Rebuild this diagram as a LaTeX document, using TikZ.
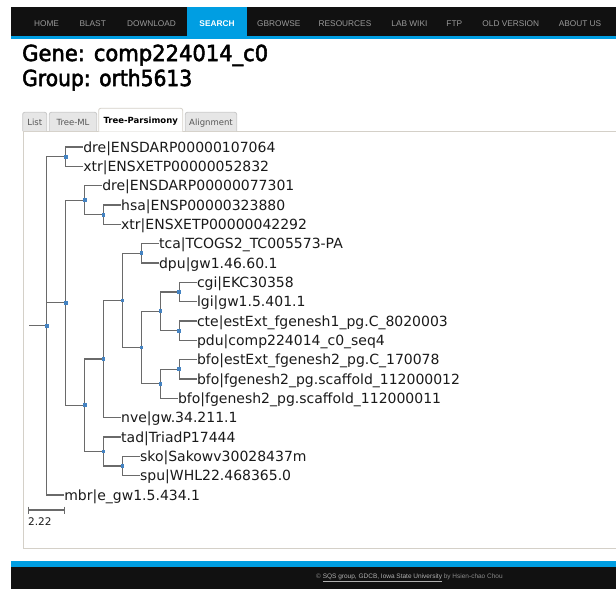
\documentclass[tikz,border=0pt]{standalone}
\usepackage{fontspec}
\setmainfont{DejaVu Sans}
\newfontfamily\navfont{Liberation Sans}
\newfontfamily\dvs{DejaVu Sans}
\newfontfamily\headfont[FakeBold=2.5]{DejaVu Sans}
\usetikzlibrary{calc}
\definecolor{navblue}{HTML}{009EE2}
\definecolor{navblack}{HTML}{111111}
\definecolor{navgray}{HTML}{9A9A9A}
\definecolor{treeline}{HTML}{6A6A6A}
\definecolor{nodeblue}{HTML}{4483C2}
\definecolor{boxborder}{HTML}{D4D0C8}
\definecolor{tabfill}{HTML}{E6E6E6}
\definecolor{tabborder}{HTML}{C8C8C8}
\definecolor{tabtext}{HTML}{555555}
\definecolor{leaftext}{HTML}{1A1A1A}
\definecolor{footgray}{HTML}{8A8A8A}
\definecolor{footlink}{HTML}{B0B0B0}
\begin{document}
\begin{tikzpicture}[x=1pt,y=-1pt,
  navitem/.style={inner sep=0, text height=5.9pt, text depth=0pt, text=navgray,
    font=\navfont\fontsize{8.3}{9}\selectfont},
  navactive/.style={navitem, text=white, font=\navfont\bfseries\fontsize{8.3}{9}\selectfont},
  tabshape/.style={draw=tabborder, fill=tabfill, rounded corners=2pt, line width=0.8pt},
  tabactive/.style={draw=boxborder, fill=white, rounded corners=2pt, line width=0.8pt},
  tabtextsty/.style={inner sep=0, text height=6.2pt, text depth=0pt, text=tabtext,
    font=\dvs\fontsize{8.5}{10}\selectfont},
  tabtextact/.style={tabtextsty, text=black, font=\dvs\bfseries\fontsize{8.5}{10}\selectfont},
  leaf/.style={anchor=west, inner sep=0, text height=10.2pt, text depth=0pt, text=leaftext,
    font=\dvs\fontsize{14}{16}\selectfont},
  branch/.style={draw=treeline, line width=1.2pt},
]
\useasboundingbox (0,0) rectangle (616,589);
\fill[white] (0,0) rectangle (616,589);

% navigation bar
\fill[navblack] (11,7.3) rectangle (616,36);
\fill[navblue] (11,36) rectangle (616,38.7);
\fill[navblue] (186.6,7.3) rectangle (246.8,36);
\node[navitem] (nhome) at (46.5,23.7) {HOME};
\node[navitem] (nblast) at (92.7,23.7) {BLAST};
\node[navitem] (ndown) at (151.5,23.7) {DOWNLOAD};
\node[navactive] (nsearch) at (217,23.7) {SEARCH};
\node[navitem] (ngb) at (278.8,23.7) {GBROWSE};
\node[navitem] (nres) at (345,23.7) {RESOURCES};
\node[navitem] (nwiki) at (409.4,23.7) {LAB WIKI};
\node[navitem] (nftp) at (454.3,23.7) {FTP};
\node[navitem] (nold) at (510.8,23.7) {OLD VERSION};
\node[navitem] (nabout) at (580,23.7) {ABOUT US};

% headings
\node[anchor=base west, inner sep=0] (gene) at (22,61)
  {\resizebox{246pt}{16.4pt}{\headfont Gene: comp224014\_c0}};
\node[anchor=base west, inner sep=0] (group) at (22,86)
  {\resizebox{170pt}{16.8pt}{\headfont Group: orth5613}};

% content box and tabs
\draw[boxborder, fill=white, line width=0.8pt] (23,131) rectangle (619,548);
\path[tabshape] (22.7,131) -- (22.7,112.3) -- (46.7,112.3) -- (46.7,131);
\path[tabshape] (49.3,131) -- (49.3,112.3) -- (96.7,112.3) -- (96.7,131);
\path[tabshape] (185.3,131) -- (185.3,112.3) -- (236.7,112.3) -- (236.7,131);
\path[tabactive] (98.7,131.6) -- (98.7,108.3) -- (182.7,108.3) -- (182.7,131.6);
\node[tabtextsty] (tlist) at (34.7,122.3) {List};
\node[tabtextsty] (tml) at (73,122.3) {Tree-ML};
\node[tabtextact] (tpars) at (140.7,120.8) {Tree-Parsimony};
\node[tabtextsty] (taln) at (211,122.3) {Alignment};

% tree internal nodes
\coordinate (rs) at (29.3,325.83);
\coordinate (R) at (46.7,325.83);
\coordinate (C1) at (65.65,156.67);
\coordinate (B) at (65.65,302.72);
\coordinate (C2) at (84.6,200.17);
\coordinate (C2a) at (103.55,214.67);
\coordinate (C3) at (84.6,405.28);
\coordinate (C4) at (103.55,359.06);
\coordinate (C5) at (122.5,300.46);
\coordinate (C6) at (141.45,253.33);
\coordinate (C7) at (141.45,347.58);
\coordinate (C8) at (160.4,311.33);
\coordinate (C8a) at (179.35,292.0);
\coordinate (C8b) at (179.35,330.67);
\coordinate (C9) at (160.4,383.83);
\coordinate (C9a) at (179.35,369.33);
\coordinate (T) at (103.55,451.5);
\coordinate (T1) at (122.5,466.0);

% leaves
\node[leaf] (l0) at (83.1,147) {dre|ENSDARP00000107064};
\node[leaf] (l1) at (83.1,166.33) {xtr|ENSXETP00000052832};
\node[leaf] (l2) at (102.05,185.67) {dre|ENSDARP00000077301};
\node[leaf] (l3) at (121,205) {hsa|ENSP00000323880};
\node[leaf] (l4) at (121,224.33) {xtr|ENSXETP00000042292};
\node[leaf] (l5) at (158.9,243.67) {tca|TCOGS2\_TC005573-PA};
\node[leaf] (l6) at (158.9,263) {dpu|gw1.46.60.1};
\node[leaf] (l7) at (196.8,282.33) {cgi|EKC30358};
\node[leaf] (l8) at (196.8,301.67) {lgi|gw1.5.401.1};
\node[leaf] (l9) at (196.8,321) {cte|estExt\_fgenesh1\_pg.C\_8020003};
\node[leaf] (l10) at (196.8,340.33) {pdu|comp224014\_c0\_seq4};
\node[leaf] (l11) at (196.8,359.67) {bfo|estExt\_fgenesh2\_pg.C\_170078};
\node[leaf] (l12) at (196.8,379) {bfo|fgenesh2\_pg.scaffold\_112000012};
\node[leaf] (l13) at (177.85,398.33) {bfo|fgenesh2\_pg.scaffold\_112000011};
\node[leaf] (l14) at (121,417.67) {nve|gw.34.211.1};
\node[leaf] (l15) at (121,437) {tad|TriadP17444};
\node[leaf] (l16) at (139.95,456.33) {sko|Sakowv30028437m};
\node[leaf] (l17) at (139.95,475.67) {spu|WHL22.468365.0};
\node[leaf] (l18) at (64.15,495) {mbr|e\_gw1.5.434.1};

% branches
\draw[branch] (rs) -- (R);
\draw[branch] (R) |- (C1);
\draw[branch] (R) |- (B);
\draw[branch] (R) |- (l18.west);
\draw[branch] (C1) |- (l0.west);
\draw[branch] (C1) |- (l1.west);
\draw[branch] (B) |- (C2);
\draw[branch] (B) |- (C3);
\draw[branch] (C2) |- (l2.west);
\draw[branch] (C2) |- (C2a);
\draw[branch] (C2a) |- (l3.west);
\draw[branch] (C2a) |- (l4.west);
\draw[branch] (C3) |- (C4);
\draw[branch] (C3) |- (T);
\draw[branch] (C4) |- (C5);
\draw[branch] (C4) |- (l14.west);
\draw[branch] (C5) |- (C6);
\draw[branch] (C5) |- (C7);
\draw[branch] (C6) |- (l5.west);
\draw[branch] (C6) |- (l6.west);
\draw[branch] (C7) |- (C8);
\draw[branch] (C7) |- (C9);
\draw[branch] (C8) |- (C8a);
\draw[branch] (C8) |- (C8b);
\draw[branch] (C8a) |- (l7.west);
\draw[branch] (C8a) |- (l8.west);
\draw[branch] (C8b) |- (l9.west);
\draw[branch] (C8b) |- (l10.west);
\draw[branch] (C9) |- (C9a);
\draw[branch] (C9) |- (l13.west);
\draw[branch] (C9a) |- (l11.west);
\draw[branch] (C9a) |- (l12.west);
\draw[branch] (T) |- (l15.west);
\draw[branch] (T) |- (T1);
\draw[branch] (T1) |- (l16.west);
\draw[branch] (T1) |- (l17.west);

% node markers
\foreach \n in {R,C1,B,C2,C2a,C3,C4,C5,C6,C7,C8,C8a,C8b,C9,C9a,T,T1}
  \fill[nodeblue] (\n) ++(-1.9,-1.9) rectangle ++(3.8,3.8);

% scale bar
\coordinate (sb1) at (28.3,510);
\coordinate (sb2) at (64.3,510);
\draw[branch] (sb1) -- (sb2);
\draw[branch] (sb1) ++(0,-3.5) -- ++(0,7);
\draw[branch] (sb2) ++(0,-3.5) -- ++(0,7);
\node[anchor=base west, inner sep=0, text=leaftext, font=\dvs\fontsize{10.5}{12}\selectfont] (sblabel) at (28,525.7) {2.22};

% footer
\fill[navblue] (11,561) rectangle (616,566.5);
\fill[navblack] (11,566.5) rectangle (616,589);
\node[anchor=west, inner sep=0, text=footgray, font=\navfont\fontsize{6.5}{8}\selectfont] (foot) at (316,578)
  {© {\color{footlink}\underline{SQS group, GDCB, Iowa State University}} by Hsien-chao Chou};
\end{tikzpicture}
\end{document}
